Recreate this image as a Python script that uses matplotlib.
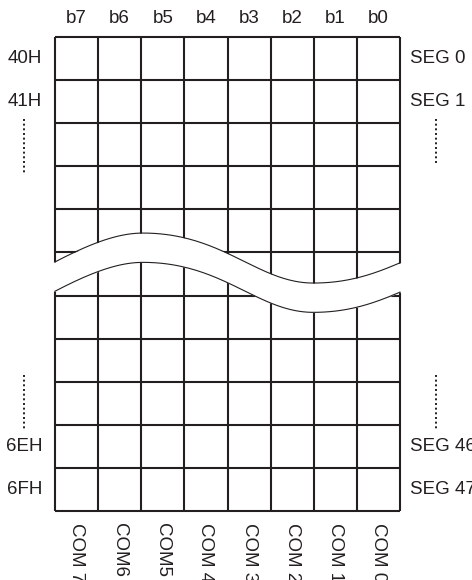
import numpy as np
import matplotlib
matplotlib.use("Agg")
import matplotlib.pyplot as plt

# ------------------------------------------------------------
# Datos del mapa de memoria
# ------------------------------------------------------------
n_cols = 8
n_rows = 11
bit_labels = ["b7", "b6", "b5", "b4", "b3", "b2", "b1", "b0"]
addr_rows = [0, 1, 9, 10]
addr_labels = ["40H", "41H", "6EH", "6FH"]
seg_labels = ["SEG 0", "SEG 1", "SEG 46", "SEG 47"]
com_labels = ["COM 7", "COM6", "COM5", "COM 4", "COM 3", "COM 2", "COM 1", "COM 0"]

INK = "#231f20"
plt.rcParams["font.family"] = ["Liberation Sans", "DejaVu Sans"]
FS = 13.5

fig = plt.figure(figsize=(4.72, 5.80), dpi=100)
ax = fig.add_axes([55 / 472, 1 - 511 / 580, 345 / 472, 474 / 580])
ax.set_xlim(0, n_cols)
ax.set_ylim(n_rows, 0)
ax.axis("off")

# ------------------------------------------------------------
# Rejilla
# ------------------------------------------------------------
ax.vlines(np.arange(n_cols + 1), 0, n_rows, color=INK, lw=1.5, clip_on=False, zorder=1)
ax.hlines(np.arange(n_rows + 1), 0, n_cols, color=INK, lw=1.5, clip_on=False, zorder=1)

# ------------------------------------------------------------
# Corte ondulado (curvas de Bezier)
# ------------------------------------------------------------
def bezier(p0, p1, p2, p3, t):
    t = t[:, None]
    return ((1 - t) ** 3) * p0 + 3 * (1 - t) ** 2 * t * p1 + 3 * (1 - t) * t ** 2 * p2 + t ** 3 * p3

t = np.linspace(0, 1, 80)
segs = [
    ((0.0, 5.22), (0.9, 4.75), (1.5, 4.55), (2.04, 4.55)),
    ((2.04, 4.55), (3.9, 4.55), (4.7, 5.71), (5.99, 5.71)),
    ((5.99, 5.71), (6.8, 5.71), (7.4, 5.5), (8.0, 5.24)),
]
pts = np.vstack([bezier(*[np.array(p) for p in s], t) for s in segs])
wx, wy = pts[:, 0], pts[:, 1]
gap = 0.68

fx = np.concatenate([[-0.06], wx, [8.06]])
fy = np.concatenate([[wy[0]], wy, [wy[-1]]])
ax.fill_between(fx, fy, fy + gap, color="white", lw=0, zorder=2, clip_on=False)
ax.plot(wx, wy, color=INK, lw=0.8, zorder=3, clip_on=False)
ax.plot(wx, wy + gap, color=INK, lw=0.8, zorder=3, clip_on=False)

# ------------------------------------------------------------
# Textos
# ------------------------------------------------------------
for i, lab in enumerate(bit_labels):
    ax.text(i + 0.5, -0.43, lab, ha="center", va="center", fontsize=FS, color=INK, clip_on=False)

for r, lab in zip(addr_rows, addr_labels):
    ax.text(-0.30, r + 0.5, lab, ha="right", va="center", fontsize=FS, color=INK, clip_on=False)

for r, lab in zip(addr_rows, seg_labels):
    ax.text(8.24, r + 0.5, lab, ha="left", va="center", fontsize=FS, color=INK, clip_on=False)

for i, lab in enumerate(com_labels):
    ax.text(i + 0.5, 11.28, lab, ha="center", va="top", rotation=-90,
            fontsize=FS, color=INK, clip_on=False)

# puntos suspensivos verticales
dot_style = dict(color=INK, lw=1.4, linestyle=(0, (1, 1.4)), dash_capstyle="butt", clip_on=False)
ax.plot([-0.72, -0.72], [1.90, 3.20], **dot_style)
ax.plot([-0.72, -0.72], [7.84, 9.14], **dot_style)
ax.plot([8.84, 8.84], [1.90, 2.92], **dot_style)
ax.plot([8.84, 8.84], [7.84, 9.14], **dot_style)

fig.savefig("out.png", dpi=100)
